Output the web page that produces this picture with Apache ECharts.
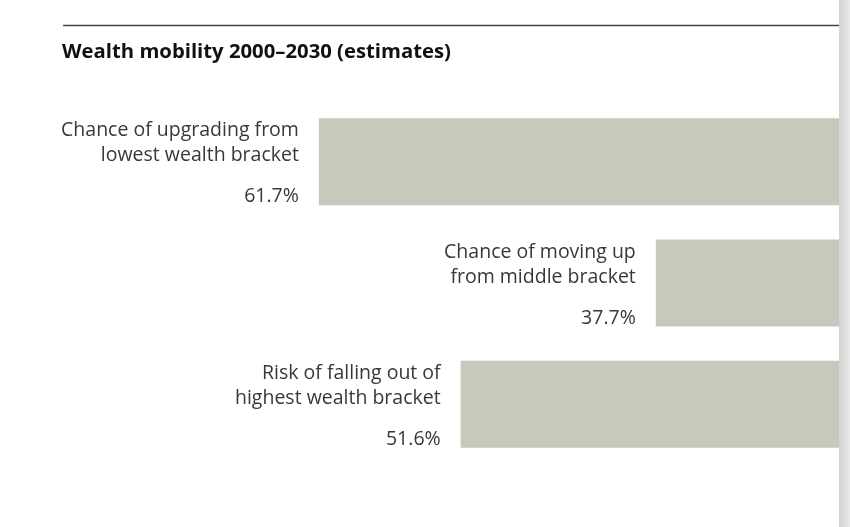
<!DOCTYPE html>
<html>
<head>
<meta charset="utf-8">
<script src="https://cdn.jsdelivr.net/npm/echarts@6/dist/echarts.min.js"></script>
<style>
html,body{margin:0;padding:0;background:#fff;}
#chart{width:850px;height:527px;}
</style>
</head>
<body>
<div id="chart"></div>
<script>
const titleText = 'Wealth mobility 2000–2030 (estimates)';
const categories = [
  ['Chance of upgrading from', 'lowest wealth bracket'],
  ['Chance of moving up', 'from middle bracket'],
  ['Risk of falling out of', 'highest wealth bracket']
];
const values = [61.7, 37.7, 51.6];

const chart = echarts.init(document.getElementById('chart'));
const FONT = '"Open Sans", "Noto Sans", sans-serif';

chart.setOption({
  animation: false,
  backgroundColor: '#fff',
  title: {
    text: titleText,
    left: 57,
    top: 37,
    textStyle: { fontFamily: FONT, fontSize: 20.3, fontWeight: 'bold', color: '#111' }
  },
  grid: { left: 62, width: 1123, top: 101, height: 364, outerBoundsMode: 'none', containLabel: false },
  xAxis: {
    type: 'value', inverse: true, min: 0, max: 80,
    show: false
  },
  yAxis: {
    type: 'category', inverse: true,
    data: categories.map(c => c.join('\n')),
    show: false
  },
  series: [{
    type: 'bar',
    data: values,
    barWidth: 87,
    clip: false,
    itemStyle: { color: '#c9c8bc' },
    label: {
      show: true,
      position: 'left',
      distance: 20,
      offset: [0, 10],
      align: 'right',
      fontFamily: FONT,
      formatter: p => {
        const c = categories[p.dataIndex];
        return '{d|' + c[0] + '}\n{d|' + c[1] + '}\n{v|' + p.value.toFixed(1) + '%}';
      },
      rich: {
        d: { fontFamily: FONT, fontSize: 19.5, lineHeight: 25, color: '#383838', align: 'right' },
        v: { fontFamily: FONT, fontSize: 19.5, lineHeight: 57, color: '#383838', align: 'right' }
      }
    }
  }],
  graphic: [
    {
      type: 'line', silent: true,
      shape: { x1: 63, y1: 25.5, x2: 839, y2: 25.5 },
      style: { stroke: '#444', lineWidth: 1.5 }
    },
    {
      type: 'rect', silent: true, z: 100,
      shape: { x: 839, y: 0, width: 11, height: 527 },
      style: {
        fill: new echarts.graphic.LinearGradient(0, 0, 1, 0, [
          { offset: 0, color: '#d4d4d4' },
          { offset: 1, color: '#e8e8e8' }
        ])
      }
    }
  ]
});
</script>
</body>
</html>
